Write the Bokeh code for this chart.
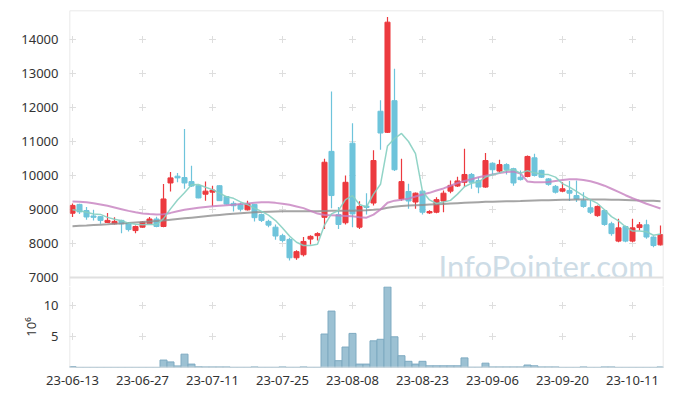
from bokeh.plotting import figure
from bokeh.layouts import column
from bokeh.models import Range1d, FixedTicker, Label, Span
from bokeh.embed import file_html
from bokeh.resources import INLINE

# ---------------- data ----------------
opens = [8890, 9150, 8970, 8810, 8790, 8620, 8580, 8680, 8600, 8380,
         8480, 8580, 8720, 8500, 9780, 9980, 9940, 9820, 9700, 9450,
         9510, 9700, 9380, 9180, 9150, 8990, 9150, 8850, 8650, 8480,
         8230, 8120, 7580, 7670, 8130, 8230, 8770, 10710, 8850, 8610,
         10950, 8480, 9100, 9190, 11890, 11270, 12200, 9310, 9530, 9220,
         9540, 8900, 8920, 9250, 9540, 9690, 9800, 10030, 9850, 9660,
         10360, 10130, 10320, 10200, 9950, 9970, 10520, 10150, 9900, 9680,
         9540, 9560, 9410, 9260, 9050, 8820, 8970, 8580, 8070, 8500,
         8070, 8470, 8550, 8190, 7960]
highs = [9180, 9170, 9070, 8990, 8810, 8900, 8770, 8700, 8630, 8530,
         8660, 8780, 8790, 9750, 10100, 10070, 11370, 10290, 9710, 9820,
         9700, 9710, 9390, 9240, 9200, 9260, 9160, 8880, 8700, 8560,
         8290, 8170, 7800, 8190, 8240, 8330, 10490, 12470, 9070, 10000,
         11540, 9240, 9480, 10740, 12210, 14660, 13140, 10490, 9760, 9500,
         9560, 8980, 9360, 9560, 9850, 9960, 10790, 10070, 9950, 10660,
         10390, 10460, 10360, 10230, 10150, 10590, 10640, 10170, 9930, 9720,
         9800, 9840, 9850, 9510, 9310, 9120, 9000, 8640, 8730, 8530,
         8730, 8630, 8700, 8210, 8530]
lows = [8780, 8870, 8700, 8680, 8580, 8600, 8560, 8300, 8350, 8300,
        8460, 8570, 8480, 8480, 9530, 9800, 9610, 9660, 9330, 9260,
        9100, 9260, 9150, 8940, 8940, 8970, 8650, 8630, 8480, 8110,
        8040, 7500, 7520, 7620, 7970, 8090, 8430, 9040, 8430, 8560,
        8480, 8430, 8850, 9120, 10760, 11250, 10130, 9260, 9020, 9020,
        8850, 8870, 8890, 8920, 9480, 9660, 9660, 9610, 9480, 9640,
        10030, 10070, 10030, 9700, 9850, 9950, 9970, 9930, 9700, 9470,
        9510, 9250, 9220, 9050, 8870, 8790, 8520, 8230, 8040, 8040,
        8040, 8380, 8140, 7890, 7940]
closes = [9120, 8930, 8780, 8770, 8680, 8680, 8650, 8580, 8410, 8500,
          8630, 8720, 8500, 9310, 9930, 9930, 9780, 9690, 9340, 9540,
          9570, 9260, 9160, 9110, 9010, 9170, 8760, 8680, 8540, 8220,
          8090, 7580, 7760, 8060, 8210, 8290, 10390, 9410, 8560, 9800,
          8870, 9090, 9060, 10440, 11250, 14510, 10170, 9820, 9250, 9480,
          8920, 8940, 9290, 9480, 9710, 9840, 10030, 9800, 9660, 10440,
          10170, 10320, 10170, 9780, 9880, 10560, 10000, 9950, 9740, 9510,
          9610, 9480, 9310, 9090, 8920, 9090, 8560, 8290, 8460, 8070,
          8460, 8550, 8190, 7940, 8260]
ma5 = [8990, 8960, 8920, 8870, 8856, 8768, 8712, 8672, 8600, 8564,
       8554, 8568, 8552, 8732, 9018, 9278, 9490, 9728, 9734, 9656,
       9584, 9480, 9374, 9328, 9222, 9142, 9042, 8946, 8832, 8674,
       8458, 8222, 8038, 7942, 7940, 7980, 8542, 8872, 8972, 9290,
       9406, 9146, 9076, 9452, 9742, 10870, 11086, 11238, 11000, 10646,
       9528, 9282, 9176, 9222, 9268, 9452, 9670, 9772, 9808, 9954,
       10020, 10078, 10152, 10176, 10064, 10142, 10078, 10034, 10026, 9952,
       9762, 9658, 9530, 9400, 9282, 9178, 8994, 8790, 8664, 8494,
       8368, 8366, 8346, 8242, 8280]
ma20 = [9235, 9225, 9210, 9185, 9150, 9110, 9060, 9010, 8960, 8920,
        8885, 8865, 8855, 8860, 8900, 8950, 8990, 9020, 9050, 9075,
        9095, 9110, 9125, 9140, 9160, 9180, 9200, 9210, 9210, 9195,
        9170, 9140, 9090, 9040, 8960, 8880, 8840, 8830, 8820, 8810,
        8800, 8770, 8760, 8850, 9000, 9200, 9260, 9290, 9320, 9380,
        9440, 9490, 9560, 9620, 9700, 9780, 9840, 9890, 9950, 9990,
        10030, 10070, 10100, 10120, 10060, 9820, 9800, 9800, 9810, 9840,
        9870, 9890, 9890, 9870, 9830, 9770, 9700, 9610, 9520, 9420,
        9330, 9250, 9170, 9100, 9030]
ma60 = [8510, 8520, 8530, 8545, 8555, 8565, 8580, 8590, 8605, 8620,
        8635, 8650, 8665, 8680, 8700, 8720, 8740, 8760, 8780, 8800,
        8820, 8840, 8860, 8875, 8890, 8905, 8920, 8930, 8935, 8940,
        8945, 8945, 8945, 8950, 8950, 8950, 8955, 8960, 8960, 8960,
        8965, 8970, 8975, 8990, 9010, 9050, 9080, 9100, 9115, 9125,
        9135, 9145, 9155, 9165, 9175, 9185, 9195, 9205, 9215, 9225,
        9230, 9235, 9240, 9245, 9250, 9260, 9265, 9270, 9275, 9280,
        9285, 9290, 9295, 9295, 9295, 9295, 9295, 9290, 9285, 9280,
        9275, 9265, 9260, 9255, 9245]
volume = [0.15, 0.02, 0.02, 0.02, 0.02, 0.02, 0.02, 0.02, 0.02, 0.02,
          0.02, 0.02, 0.02, 1.2, 0.9, 0.25, 2.15, 0.55, 0.12, 0.1,
          0.1, 0.1, 0.1, 0.03, 0.03, 0.03, 0.1, 0.03, 0.03, 0.03,
          0.1, 0.03, 0.03, 0.1, 0.03, 0.03, 5.4, 9.1, 1.1, 3.3,
          5.5, 0.55, 0.55, 4.3, 4.55, 13.0, 4.95, 1.9, 1.0, 0.55,
          1.0, 0.27, 0.27, 0.27, 0.27, 0.27, 1.55, 0.05, 0.05, 0.7,
          0.1, 0.1, 0.1, 0.1, 0.1, 0.4, 0.27, 0.1, 0.1, 0.1,
          0.02, 0.02, 0.02, 0.1, 0.02, 0.02, 0.1, 0.1, 0.02, 0.02,
          0.02, 0.02, 0.02, 0.02, 0.1]
tick_idx = [0, 10, 20, 30, 40, 50, 60, 70, 80]
tick_labels = ["23-06-13", "23-06-27", "23-07-11", "23-07-25", "23-08-08",
               "23-08-23", "23-09-06", "23-09-20", "23-10-11"]
price_ticks = [7000, 8000, 9000, 10000, 11000, 12000, 13000, 14000]
vol_ticks = [5, 10]

# ---------------- layout ----------------
FONT = "Noto Sans"
RED = "#ec3a3f"
BLUE = "#6ec4db"
BORDER = "#e2e2e2"
n = len(closes)
xs = list(range(n))

X0, X1 = -0.43, 84.43
px_per_k = 34.0
GAP = 9                                       # px of price canvas under the 7000 line
price_hi = 7000 + 267 / px_per_k * 1000       # frame top
price_lo = 7000 - GAP / px_per_k * 1000       # frame bottom
VOL_H = 90 - GAP
vol_hi = VOL_H / 6.2

xr = Range1d(X0, X1)


def style_yaxis(fig):
    ax = fig.yaxis[0]
    ax.axis_line_color = None
    ax.major_tick_line_color = None
    ax.minor_tick_line_color = None
    ax.major_label_standoff = 5
    ax.major_label_text_font = FONT
    ax.major_label_text_font_size = "13px"
    ax.major_label_text_color = "#333333"


def borders(fig, ylo, yhi, top, bottom):
    fig.add_layout(Span(location=X0, dimension="height", line_color=BORDER, line_width=1.5))
    fig.add_layout(Span(location=X1, dimension="height", line_color=BORDER, line_width=1.5))
    if top:
        fig.add_layout(Span(location=yhi, dimension="width", line_color=BORDER, line_width=1.5))
    if bottom:
        fig.add_layout(Span(location=ylo, dimension="width", line_color=BORDER, line_width=1.5))


# ---- price pane ----
p = figure(width=665, height=277 + GAP, output_backend="svg", toolbar_location=None,
           x_range=xr, y_range=Range1d(price_lo, price_hi),
           min_border_left=69, min_border_right=2, min_border_top=10,
           min_border_bottom=0)
p.background_fill_color = "white"
p.border_fill_color = "white"
p.outline_line_color = None
p.xgrid.visible = False
p.ygrid.visible = False
p.xaxis.visible = False
borders(p, price_lo, price_hi, True, False)
p.add_layout(Span(location=7000, dimension="width", line_color="#e0e0e0",
                  line_width=2))

cx, cy = [], []
for t in tick_idx:
    for pt in price_ticks[1:]:
        cx.append(t)
        cy.append(pt)
p.scatter(cx, cy, marker="cross", size=7, line_color="#dedede", line_width=1)

p.add_layout(Label(x=52.3, y=7330, text="InfoPointer.com", text_font="Lato",
                   text_font_size="31px", text_color="#cddce6",
                   text_align="left", text_baseline="alphabetic",
                   level="underlay"))

up = [c >= o for o, c in zip(opens, closes)]
colors = [RED if u else BLUE for u in up]
tops = [max(o, c) for o, c in zip(opens, closes)]
bots = [min(o, c) for o, c in zip(opens, closes)]
p.segment(x0=xs, y0=lows, x1=xs, y1=highs, line_color=colors, line_width=1.2)
p.vbar(x=xs, top=tops, bottom=bots, width=0.72, fill_color=colors,
       line_color=colors, line_width=1)

p.line(xs, ma60, line_color="#8f8f8f", line_width=2, line_alpha=0.8)
p.line(xs, ma20, line_color="#c57fbf", line_width=2, line_alpha=0.8)
p.line(xs, ma5, line_color="#86cfc1", line_width=1.5, line_alpha=0.9)

p.yaxis.ticker = FixedTicker(ticks=price_ticks)
style_yaxis(p)

# ---- volume pane ----
v = figure(width=665, height=VOL_H + 26, output_backend="svg", toolbar_location=None,
           x_range=xr, y_range=Range1d(0, vol_hi),
           min_border_left=69, min_border_right=2, min_border_top=0,
           min_border_bottom=26)
v.background_fill_color = "white"
v.border_fill_color = "white"
v.outline_line_color = None
v.xgrid.visible = False
v.ygrid.visible = False
borders(v, 0, vol_hi, False, True)

vx, vy = [], []
for t in tick_idx:
    for tv in vol_ticks:
        vx.append(t)
        vy.append(tv)
v.scatter(vx, vy, marker="cross", size=7, line_color="#dedede", line_width=1)

v.vbar(x=xs, top=volume, bottom=0, width=1.0,
       fill_color="#9cc1d3", line_color="#7eaac1", line_width=1)

v.yaxis.ticker = FixedTicker(ticks=vol_ticks)
style_yaxis(v)
v.yaxis.axis_label = "10\u2076"
v.yaxis.axis_label_standoff = 1
v.yaxis.axis_label_text_font = FONT
v.yaxis.axis_label_text_font_size = "13px"
v.yaxis.axis_label_text_font_style = "normal"
v.yaxis.axis_label_text_color = "#333333"

v.xaxis.ticker = FixedTicker(ticks=tick_idx)
v.xaxis.major_label_overrides = {t: lab for t, lab in zip(tick_idx, tick_labels)}
v.xaxis.axis_line_color = None
v.xaxis.major_tick_line_color = None
v.xaxis.minor_tick_line_color = None
v.xaxis.major_label_standoff = 2
v.xaxis.major_label_text_font = FONT
v.xaxis.major_label_text_font_size = "13px"
v.xaxis.major_label_text_color = "#333333"

layout = column(p, v, spacing=0)
open("out.html", "w").write(file_html(layout, INLINE))
